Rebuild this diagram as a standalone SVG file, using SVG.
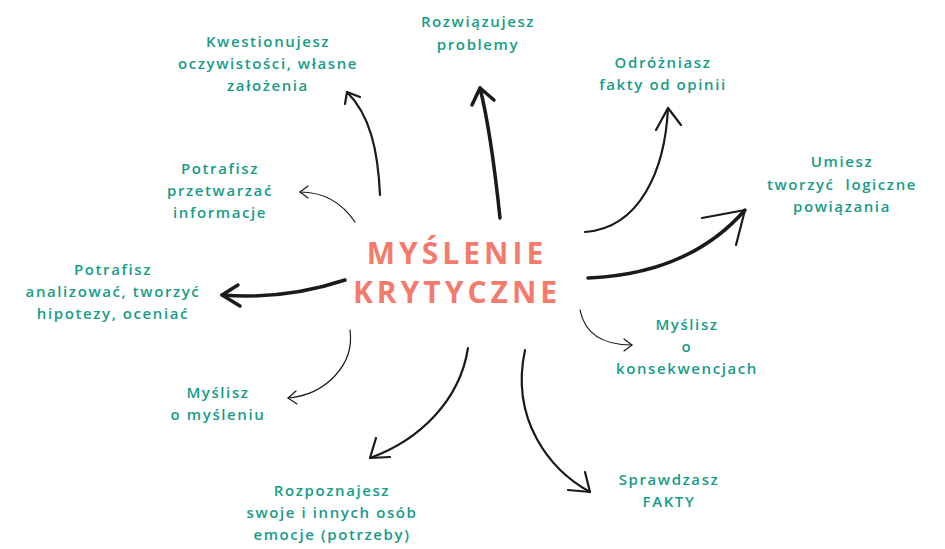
<svg xmlns="http://www.w3.org/2000/svg" width="945" height="549" viewBox="0 0 945 549">
<style>
.l{font-family:"Open Sans","Liberation Sans",sans-serif;font-size:15px;font-weight:600;fill:#179c86;letter-spacing:1.6px;text-anchor:middle}
.c{font-family:"Open Sans","Liberation Sans",sans-serif;font-size:30px;font-weight:bold;fill:#f47b6b;letter-spacing:4px;text-anchor:middle}
.a{fill:none;stroke:#1a1a1a;stroke-linecap:round;stroke-linejoin:round}
.t1{stroke-width:1.2}.t2{stroke-width:2.2}.t3{stroke-width:3.5}
</style>
<rect width="945" height="549" fill="#fff"/>
<g id="center"><text class="c" x="457" y="264">MYŚLENIE</text><text class="c" x="457" y="303">KRYTYCZNE</text></g>
<g id="connectors">
<path class="a t2" d="M380,195 C378,150 370,115 347,92"/><path class="a t2" d="M345,104 L347,92 L360,97"/>
<path class="a t3" d="M500,218 C495,170 488,120 480,88"/><path class="a t3" d="M472,105 L480,88 L494,100"/>
<path class="a t2" d="M585,232 C640,228 665,170 668,108"/><path class="a t2" d="M656,130 L668,108 L681,125"/>
<path class="a t3" d="M588,278 C660,275 710,250 745,210"/><path class="a t2" d="M702,218 L745,210 L736,245"/>
<path class="a t1" d="M355,222 C340,200 320,192 300,192"/><path class="a t1" d="M308,186 L300,192 L308,198"/>
<path class="a t3" d="M345,280 C300,295 260,298 222,295"/><path class="a t3" d="M238,285 L222,295 L240,306"/>
<path class="a t1" d="M580,310 C585,335 605,345 632,345"/><path class="a t1" d="M624,339 L632,345 L624,351"/>
<path class="a t1" d="M350,330 C355,365 325,395 288,398"/><path class="a t1" d="M296,391 L288,398 L297,404"/>
<path class="a t2" d="M468,348 C460,400 420,440 370,458"/><path class="a t2" d="M376,438 L370,458 L390,457"/>
<path class="a t2" d="M525,350 C510,420 550,470 590,492"/><path class="a t2" d="M568,490 L590,492 L585,472"/>
</g>
<g id="n1"><text class="l" x="268" y="47">Kwestionujesz</text><text class="l" x="268" y="69">oczywistości, własne</text><text class="l" x="268" y="91">założenia</text></g>
<g id="n2"><text class="l" x="478" y="27">Rozwiązujesz</text><text class="l" x="478" y="50">problemy</text></g>
<g id="n3"><text class="l" x="663" y="68">Odróżniasz</text><text class="l" x="663" y="90">fakty od opinii</text></g>
<g id="n4"><text class="l" x="842" y="167">Umiesz</text><text class="l" x="842" y="190" xml:space="preserve">tworzyć  logiczne</text><text class="l" x="842" y="212">powiązania</text></g>
<g id="n5"><text class="l" x="220" y="174">Potrafisz</text><text class="l" x="220" y="196">przetwarzać</text><text class="l" x="220" y="218">informacje</text></g>
<g id="n6"><text class="l" x="113" y="275">Potrafisz</text><text class="l" x="113" y="297">analizować, tworzyć</text><text class="l" x="113" y="319">hipotezy, oceniać</text></g>
<g id="n7"><text class="l" x="687" y="330">Myślisz</text><text class="l" x="687" y="352">o</text><text class="l" x="687" y="374">konsekwencjach</text></g>
<g id="n8"><text class="l" x="218" y="398">Myślisz</text><text class="l" x="218" y="420">o myśleniu</text></g>
<g id="n9"><text class="l" x="332" y="496">Rozpoznajesz</text><text class="l" x="332" y="518">swoje i innych osób</text><text class="l" x="332" y="540">emocje (potrzeby)</text></g>
<g id="n10"><text class="l" x="669" y="485">Sprawdzasz</text><text class="l" x="669" y="507">FAKTY</text></g>
</svg>
